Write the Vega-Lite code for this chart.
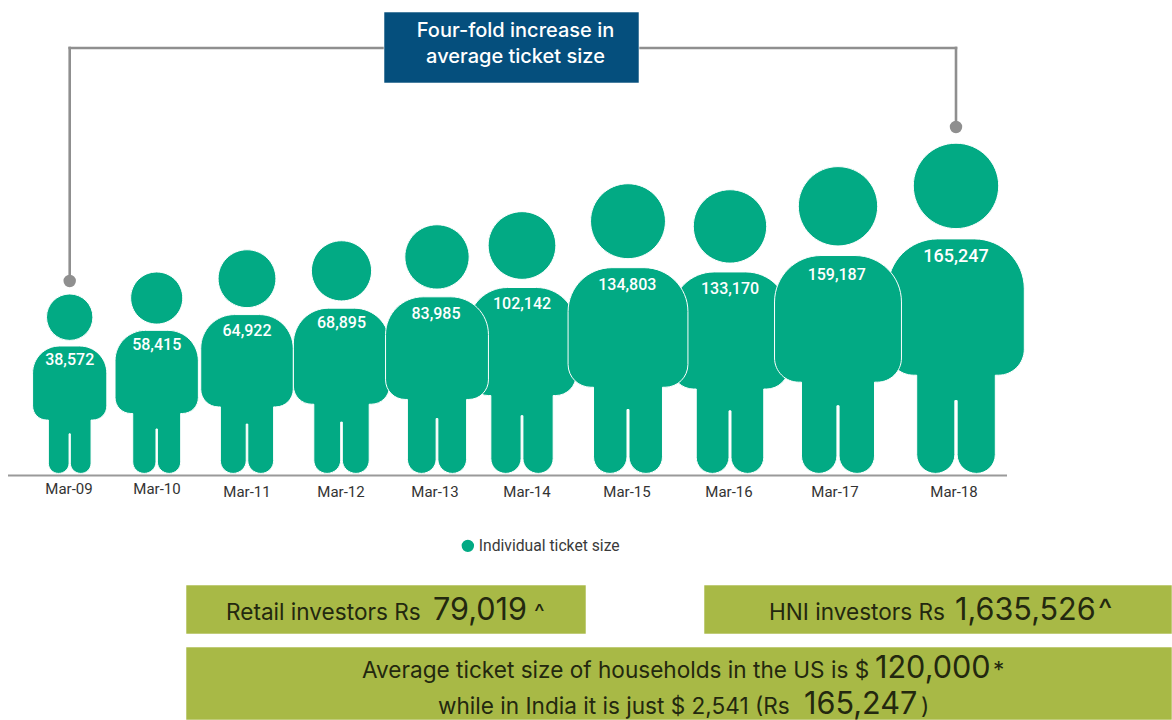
{
  "$schema": "https://vega.github.io/schema/vega-lite/v6.json",
  "width": 1172,
  "height": 720,
  "padding": 0,
  "autosize": {"type": "none"},
  "background": "#ffffff",
  "config": {"view": {"stroke": null}, "text": {"font": "Inter"}},
  "datasets": {
    "tickets": [
      {"month": "Mar-12", "year": 2012, "ticket": 68895, "series": "Individual ticket size"},
      {"month": "Mar-14", "year": 2014, "ticket": 102142, "series": "Individual ticket size"},
      {"month": "Mar-16", "year": 2016, "ticket": 133170, "series": "Individual ticket size"},
      {"month": "Mar-18", "year": 2018, "ticket": 165247, "series": "Individual ticket size"},
      {"month": "Mar-09", "year": 2009, "ticket": 38572, "series": "Individual ticket size"},
      {"month": "Mar-10", "year": 2010, "ticket": 58415, "series": "Individual ticket size"},
      {"month": "Mar-11", "year": 2011, "ticket": 64922, "series": "Individual ticket size"},
      {"month": "Mar-13", "year": 2013, "ticket": 83985, "series": "Individual ticket size"},
      {"month": "Mar-15", "year": 2015, "ticket": 134803, "series": "Individual ticket size"},
      {"month": "Mar-17", "year": 2017, "ticket": 159187, "series": "Individual ticket size"}
    ],
    "panels": [
      {"panel": "Headline", "kind": "headline", "col": 2, "col_end": 4, "row": 1, "row_end": 2},
      {"panel": "Retail investors", "kind": "note", "col": 1, "col_end": 3, "row": 3, "row_end": 4},
      {"panel": "HNI investors", "kind": "note", "col": 5, "col_end": 6, "row": 3, "row_end": 4},
      {"panel": "Households", "kind": "note", "col": 1, "col_end": 6, "row": 5, "row_end": 6}
    ],
    "notes": [
      {"seq": 1, "weight": "small", "text": "Retail investors Rs"},
      {"seq": 2, "weight": "large", "text": "79,019"},
      {"seq": 3, "weight": "small", "text": "^"},
      {"seq": 4, "weight": "small", "text": "HNI investors Rs"},
      {"seq": 5, "weight": "large", "text": "1,635,526"},
      {"seq": 6, "weight": "large", "text": "^"},
      {"seq": 7, "weight": "small", "text": "Average ticket size of households in the US is $"},
      {"seq": 8, "weight": "large", "text": "120,000"},
      {"seq": 9, "weight": "small", "text": "*"},
      {"seq": 10, "weight": "small", "text": "while in India it is just $ 2,541 (Rs"},
      {"seq": 11, "weight": "large", "text": "165,247"},
      {"seq": 12, "weight": "small", "text": ")"}
    ],
    "headline": [
      {"line": 1, "text": "Four-fold increase in"},
      {"line": 2, "text": "average ticket size"}
    ]
  },
  "layer": [
    {
      "description": "Baseline under the figures",
      "data": {"values": [{"from": 2008, "to": 2019}]},
      "mark": {"type": "rule", "color": "#9a9a9a", "strokeWidth": 2, "yOffset": 2},
      "encoding": {
        "x": {"field": "from", "type": "quantitative", "axis": null, "scale": {"nice": false, "domain": [2008, 2009, 2010, 2011, 2012, 2013, 2014, 2015, 2016, 2017, 2018, 2019], "range": [8, 69.7, 156.7, 247, 341.5, 436, 522, 627.3, 730, 836.7, 956, 1007]}},
        "x2": {"field": "to"},
        "y": {"datum": 0, "type": "quantitative", "axis": null, "scale": {"nice": false, "domain": [0, 100], "range": [473.4, 0]}}
      }
    },
    {
      "description": "Connector from the first figure up to the headline and down to the last figure",
      "data": {"name": "tickets"},
      "transform": [{"filter": "datum.year === 2009 || datum.year === 2018"}],
      "layer": [
        {
          "mark": {"type": "rule", "color": "#8f8f8f", "strokeWidth": 2.6, "strokeCap": "square"},
          "encoding": {
            "x": {"field": "year", "type": "quantitative", "axis": null, "scale": {"nice": false, "domain": [2008, 2009, 2010, 2011, 2012, 2013, 2014, 2015, 2016, 2017, 2018, 2019], "range": [8, 69.7, 156.7, 247, 341.5, 436, 522, 627.3, 730, 836.7, 956, 1007]}},
            "y": {"field": "ticket", "type": "quantitative", "axis": null, "scale": {"nice": false, "domain": [38572, 165247, 231000], "range": [281, 127, 48]}},
            "y2": {"datum": 231000}
          }
        },
        {
          "mark": {"type": "rule", "color": "#8f8f8f", "strokeWidth": 2.6, "strokeCap": "square"},
          "encoding": {
            "x": {"field": "year", "type": "quantitative", "axis": null},
            "x2": {"datum": 2013},
            "y": {"datum": 231000, "type": "quantitative", "axis": null}
          }
        },
        {
          "mark": {"type": "point", "shape": "circle", "filled": true, "opacity": 1, "size": 154, "color": "#8f8f8f"},
          "encoding": {
            "x": {"field": "year", "type": "quantitative", "axis": null},
            "y": {"field": "ticket", "type": "quantitative", "axis": null}
          }
        }
      ]
    },
    {
      "description": "One person glyph per year, feet on the baseline, scaled by ticket size",
      "data": {"name": "tickets"},
      "mark": {
        "type": "point",
        "filled": true,
        "opacity": 1,
        "stroke": "#ffffff",
        "strokeWidth": 1,
        "shape": "M0,-1.0006C0.0715,-1.0006 0.1294,-0.9427 0.1294,-0.8712C0.1294,-0.7997 0.0715,-0.7418 0,-0.7418C-0.0715,-0.7418 -0.1294,-0.7997 -0.1294,-0.8712C-0.1294,-0.9427 -0.0715,-1.0006 0,-1.0006ZM-0.0555,-0.7106L0.0555,-0.7106C0.1392,-0.7106 0.207,-0.6428 0.207,-0.5591L0.207,-0.3764C0.207,-0.3329 0.1717,-0.2976 0.1282,-0.2976L0.1191,-0.2976L0.1191,-0.057C0.1191,-0.0255 0.0936,0 0.0621,0C0.0306,0 0.0035,-0.0255 0.0035,-0.057L0.0035,-0.2206L-0.0035,-0.2206L-0.0035,-0.057C-0.0035,-0.0255 -0.0306,0 -0.0621,0C-0.0936,0 -0.1191,-0.0255 -0.1191,-0.057L-0.1191,-0.2976L-0.1282,-0.2976C-0.1717,-0.2976 -0.207,-0.3329 -0.207,-0.3764L-0.207,-0.5591C-0.207,-0.6428 -0.1392,-0.7106 -0.0555,-0.7106Z"
      },
      "encoding": {
        "x": {"field": "year", "type": "quantitative", "axis": null, "scale": {"nice": false, "domain": [2008, 2009, 2010, 2011, 2012, 2013, 2014, 2015, 2016, 2017, 2018, 2019], "range": [8, 69.7, 156.7, 247, 341.5, 437, 522, 628, 730, 838, 956, 1007]}},
        "y": {"datum": 0, "type": "quantitative", "axis": null, "scale": {"nice": false, "domain": [0, 100], "range": [473.4, 0]}},
        "size": {"field": "ticket", "type": "quantitative", "legend": null, "scale": {"domain": [38572, 58415, 64922, 68895, 83985, 102142, 133170, 134803, 159187, 165247], "range": [128596, 162089, 199809, 216225, 247009, 273738, 321489, 335241, 376019, 435600]}},
        "color": {
          "field": "series",
          "type": "nominal",
          "scale": {"range": ["#02AA84"]},
          "legend": {"title": null, "orient": "none", "legendX": 460, "legendY": 538, "symbolType": "circle", "symbolSize": 154, "symbolStrokeWidth": 0, "labelFont": "Roboto", "labelFontSize": 15.7, "labelFontWeight": 400, "labelColor": "#3a3a3a", "labelOffset": 3, "padding": 0}
        }
      }
    },
    {
      "description": "Ticket size printed on each torso",
      "data": {"name": "tickets"},
      "mark": {"type": "text", "font": "Roboto", "fontWeight": 500, "color": "#ffffff", "baseline": "middle", "align": "center"},
      "encoding": {
        "x": {"field": "year", "type": "quantitative", "axis": null, "scale": {"nice": false, "domain": [2008, 2009, 2010, 2011, 2012, 2013, 2014, 2015, 2016, 2017, 2018, 2019], "range": [8, 69.7, 156.7, 247, 341.5, 436, 522, 627.3, 730, 836.7, 956, 1007]}},
        "y": {"field": "ticket", "type": "quantitative", "axis": null, "scale": {"nice": false, "domain": [38572, 58415, 64922, 68895, 83985, 102142, 133170, 134803, 159187, 165247], "range": [360, 345, 331, 323, 314, 304, 289, 285, 275, 257]}},
        "text": {"field": "ticket", "type": "quantitative", "format": ","},
        "size": {"condition": {"test": "datum.ticket > 165000", "value": 18}, "value": 16}
      }
    },
    {
      "description": "Month labels under the baseline",
      "data": {"name": "tickets"},
      "mark": {"type": "text", "font": "Roboto", "fontSize": 15, "color": "#333333", "baseline": "middle", "align": "center"},
      "encoding": {
        "x": {"field": "year", "type": "quantitative", "axis": null, "scale": {"nice": false, "domain": [2009, 2010, 2011, 2012, 2013, 2014, 2015, 2016, 2017, 2018], "range": [69, 157, 247, 341, 435, 527, 627, 729, 835, 954]}},
        "y": {"field": "year", "type": "quantitative", "axis": null, "scale": {"nice": false, "domain": [2009, 2010, 2011, 2012, 2018], "range": [489, 489, 491.5, 491.5, 491.5]}},
        "text": {"field": "month"}
      }
    },
    {
      "description": "Filled panels; col and row index the layout grid lines",
      "data": {"name": "panels"},
      "mark": {"type": "rect", "stroke": "#ffffff", "strokeOpacity": 0.55, "strokeWidth": 1},
      "encoding": {
        "x": {"field": "col", "type": "quantitative", "axis": null, "scale": {"nice": false, "domain": [1, 2, 3, 4, 5, 6], "range": [186, 384, 586, 639, 704, 1172]}},
        "x2": {"field": "col_end"},
        "y": {"field": "row", "type": "quantitative", "axis": null, "scale": {"nice": false, "domain": [1, 2, 3, 4, 5, 6], "range": [12, 83, 585, 634, 647, 720]}},
        "y2": {"field": "row_end"},
        "fill": {"field": "kind", "type": "nominal", "legend": null, "scale": {"domain": ["headline", "note"], "range": ["#054F7D", "#A8B946"]}}
      }
    },
    {
      "description": "Headline inside the blue panel",
      "data": {"name": "headline"},
      "mark": {"type": "text", "font": "Inter", "fontWeight": 500, "fontSize": 20, "color": "#ffffff", "baseline": "middle", "align": "center"},
      "encoding": {
        "x": {"field": "line", "type": "quantitative", "axis": null, "scale": {"nice": false, "domain": [1, 2], "range": [515.5, 515.5]}},
        "y": {"field": "line", "type": "quantitative", "axis": null, "scale": {"nice": false, "domain": [1, 2], "range": [31, 57]}},
        "text": {"field": "text"}
      }
    },
    {
      "description": "Text runs of the investor and household notes",
      "data": {"name": "notes"},
      "mark": {"type": "text", "font": "Inter", "color": "#23280f", "baseline": "alphabetic", "align": "left"},
      "encoding": {
        "x": {"field": "seq", "type": "quantitative", "axis": null, "scale": {"nice": false, "domain": [1, 2, 3, 4, 5, 6, 7, 8, 9, 10, 11, 12], "range": [226, 433, 534, 769, 955, 1098, 362, 875, 993, 438, 804, 921]}},
        "y": {"field": "seq", "type": "quantitative", "axis": null, "scale": {"nice": false, "domain": [1, 2, 3, 4, 5, 6, 7, 8, 9, 10, 11, 12], "range": [620, 620, 620, 620, 620, 620, 678, 678, 678, 714, 714, 714]}},
        "size": {"field": "weight", "type": "nominal", "legend": null, "scale": {"domain": ["small", "large"], "range": [22.6, 30.6]}},
        "text": {"field": "text"}
      }
    }
  ],
  "resolve": {"scale": {"x": "independent", "y": "independent", "size": "independent", "color": "independent"}}
}
